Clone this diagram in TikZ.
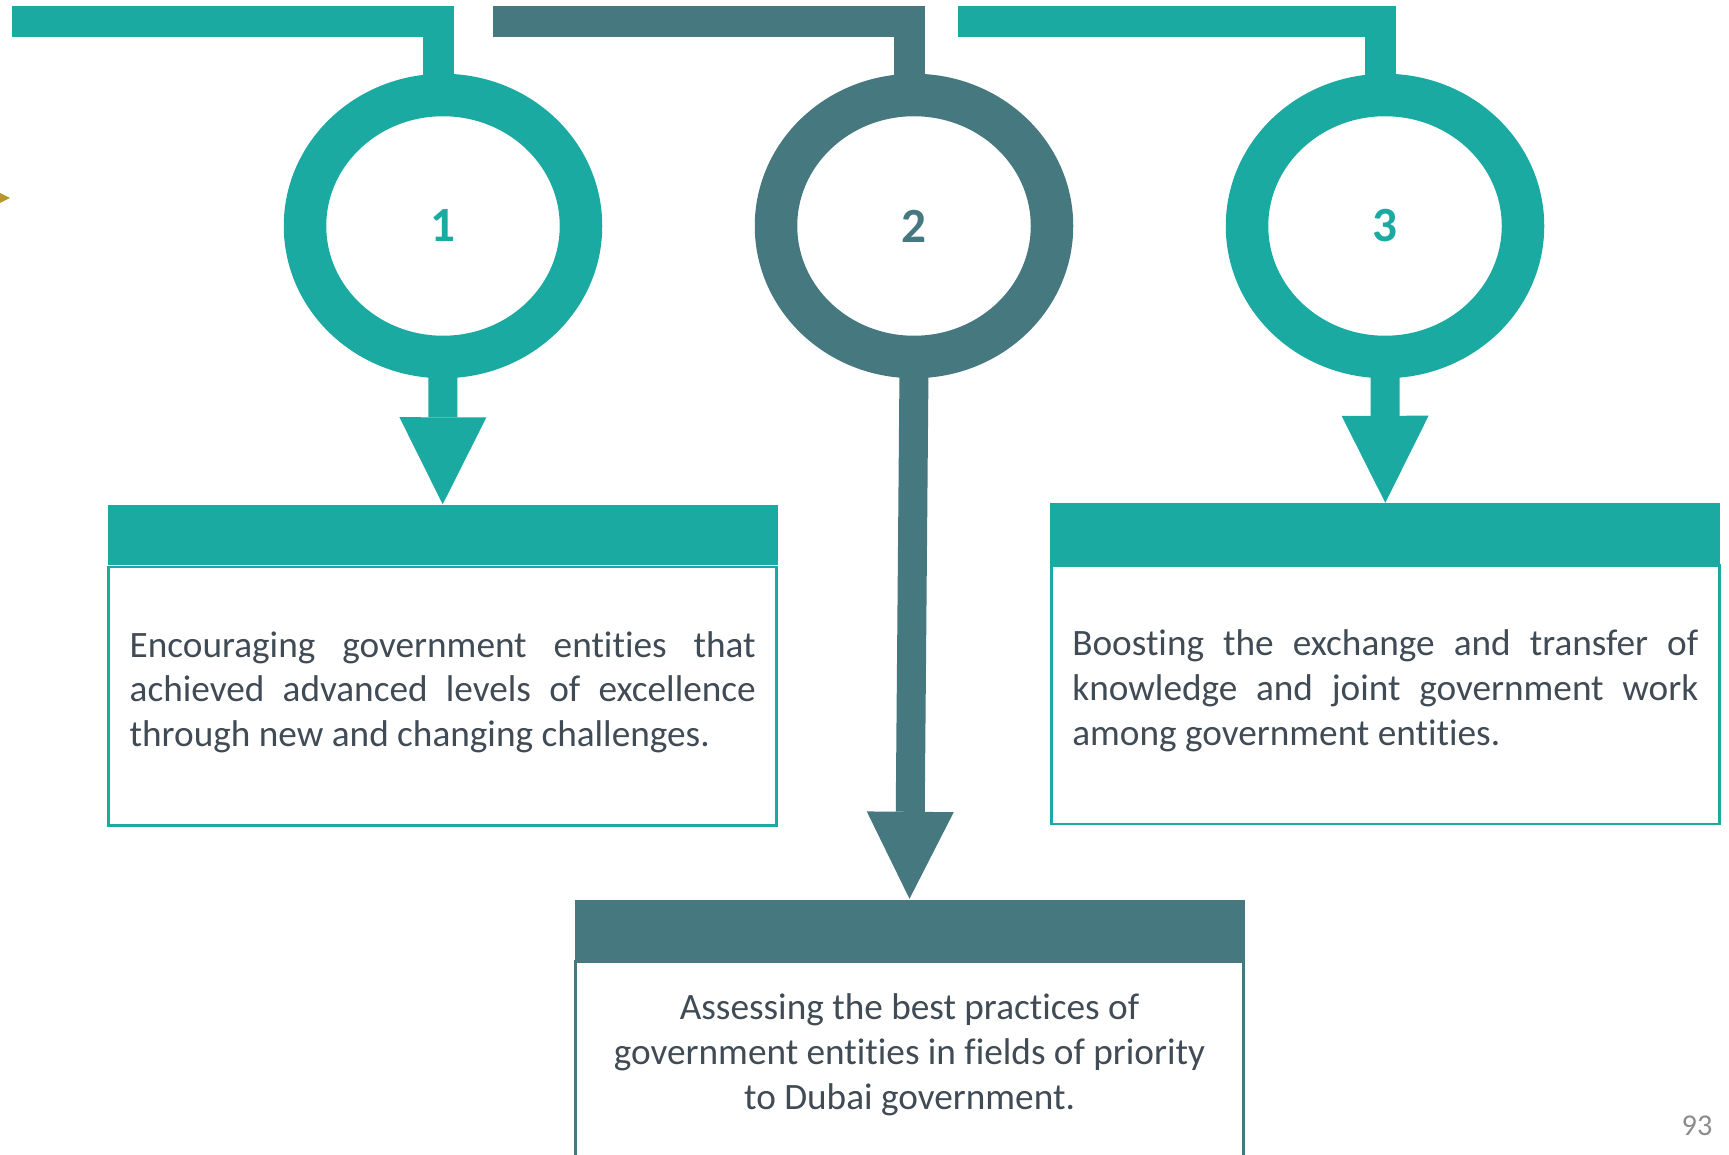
\documentclass[tikz,border=0pt]{standalone}
\usepackage{fontspec}
\setmainfont[Ligatures=NoCommon]{Carlito}
\usetikzlibrary{positioning,shapes.geometric,arrows.meta}
\definecolor{sealteal}{RGB}{26,170,162}
\definecolor{deepslate}{RGB}{70,120,128}
\definecolor{inkgray}{RGB}{64,75,85}
\definecolor{goldtip}{RGB}{184,150,46}
\definecolor{pagegray}{RGB}{140,140,140}
\begin{document}
\begin{tikzpicture}[every node/.style={font=\fontsize{10.6}{12.7}\selectfont,text=inkgray},
  ring/.style={ellipse,draw=#1,fill=white,line width=4.25mm,minimum width=2.76cm,minimum height=2.62cm,inner sep=0pt,text=#1,font=\fontsize{14}{16}\selectfont\bfseries},
  pipe/.style={draw=#1,line width=3.1mm},
  drop/.style={draw=#1,line width=2.9mm,-{Triangle[width=8.7mm,length=8.7mm,line width=0pt]}},
  header/.style={fill=#1,minimum width=6.70cm,minimum height=0.60cm,inner sep=0pt},
  body/.style={draw=#1,line width=0.7pt,minimum width=6.68cm,minimum height=2.585cm,inner sep=0pt},
  para/.style={text width=6.26cm,align=justify,inner sep=0pt}]
  \useasboundingbox (0,0) rectangle (17.29,-11.55);
  \clip (0,0) rectangle (17.29,-11.55);
  \fill [goldtip] (0,-1.93) -- (0.10,-1.98) -- (0,-2.03) -- cycle;
  \node [ring=sealteal] (c1) at (4.43,-2.26) {1};
  \node [ring=deepslate] (c2) at (9.14,-2.26) {2};
  \node [ring=sealteal] (c3) at (13.85,-2.26) {3};
  \coordinate (b1) at (0.12,-0.218);
  \coordinate (b2) at (4.93,-0.218);
  \coordinate (b3) at (9.575,-0.218);
  \draw [pipe=sealteal] (b1) -| ([xshift=-0.05cm,yshift=-1mm]c1.north);
  \draw [pipe=deepslate] (b2) -| ([xshift=-0.05cm,yshift=-1mm]c2.north);
  \draw [pipe=sealteal] (b3) -| ([xshift=-0.05cm,yshift=-1mm]c3.north);
  \node [header=sealteal] (h1) at (4.427,-5.35) {};
  \node [header=deepslate] (h2) at (9.095,-9.295) {};
  \node [header=sealteal] (h3) at (13.853,-5.335) {};
  \draw [drop=sealteal] ([yshift=1mm]c1.south) -- (h1.north);
  \draw [drop=deepslate] ([yshift=1mm]c2.south) -- (h2.north);
  \draw [drop=sealteal] ([yshift=1mm]c3.south) -- (h3.north);
  \node [body=sealteal,below=0pt of h1] (p1) {};
  \node [body=sealteal,below=0pt of h3] (p3) {};
  \node [body=deepslate,below=0pt of h2] (p2) {};
  \node [para,below=0.65cm of h1] (t1) {Encouraging government entities that\linebreak achieved advanced levels of excellence\linebreak through new and changing challenges.};
  \node [para,below=0.65cm of h3] (t3) {Boosting the exchange and transfer of\linebreak knowledge and joint government work\linebreak among government entities.};
  \node [align=center,inner sep=0pt,below=0.33cm of h2] (t2) {Assessing the best practices of\\government entities in fields of priority\\to Dubai government.};
  \node [anchor=base east,inner sep=0pt,text=pagegray,font=\fontsize{8.6}{10}\selectfont] (pg) at (17.13,-11.35) {93};
\end{tikzpicture}
\end{document}
